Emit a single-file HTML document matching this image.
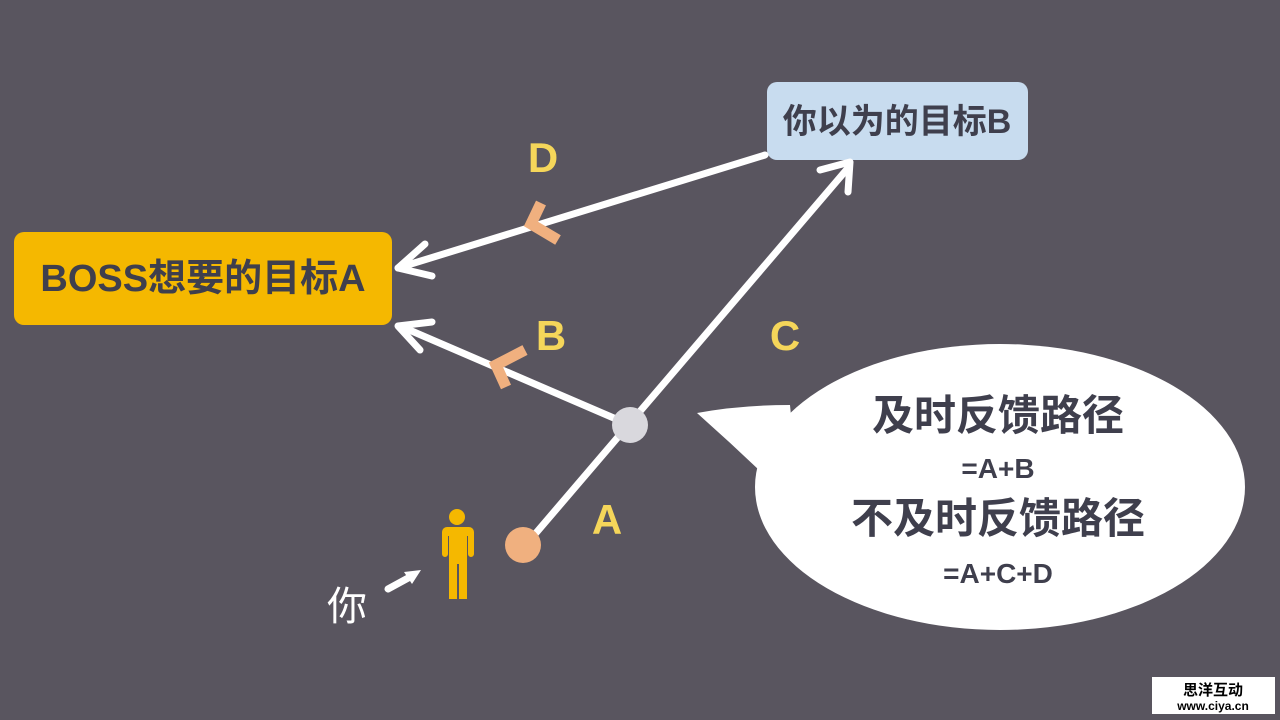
<!DOCTYPE html>
<html><head><meta charset="utf-8"><style>
html,body{margin:0;padding:0;width:1280px;height:720px;overflow:hidden;background:#59555f;font-family:"Liberation Sans","Noto Sans CJK SC",sans-serif}
</style></head><body>
<svg width="1280" height="720" viewBox="0 0 1280 720" xmlns="http://www.w3.org/2000/svg" style="position:absolute;left:0;top:0">
<rect width="1280" height="720" fill="#59555f"/>
<!-- bubble -->
<ellipse cx="1000" cy="487" rx="245" ry="143" fill="#fff"/>
<path d="M697,413 Q740,405 790,405 L800,510 Q750,460 697,413 Z" fill="#fff"/>
<g font-family="'Liberation Sans','Noto Sans CJK SC',sans-serif" font-weight="bold" fill="#3f3f4d" text-anchor="middle">
<text x="998" y="430" font-size="42">及时反馈路径</text>
<text x="998" y="478" font-size="28">=A+B</text>
<text x="998" y="533" font-size="42">不及时反馈路径</text>
<text x="998" y="583" font-size="28">=A+C+D</text>
</g>
<!-- boxes -->
<rect x="767" y="82" width="261" height="78" rx="10" fill="#c8dcef"/>
<text x="897" y="133" font-size="34" font-weight="bold" fill="#3f3f4d" text-anchor="middle" font-family="'Liberation Sans','Noto Sans CJK SC',sans-serif">你以为的目标B</text>
<rect x="14" y="232" width="378" height="93" rx="10" fill="#f5b800"/>
<text x="203" y="291" font-size="38" font-weight="bold" fill="#3f3f4d" text-anchor="middle" font-family="'Liberation Sans','Noto Sans CJK SC',sans-serif">BOSS想要的目标A</text>
<!-- lines -->
<g stroke="#fff" stroke-width="7" stroke-linecap="round" fill="none" stroke-linejoin="round">
<line x1="530" y1="540" x2="848" y2="168"/>
<polyline points="820,170 850,162 848,192"/>
<line x1="630" y1="425" x2="400" y2="326"/>
<polyline points="420,350 398,326 432,322"/>
<line x1="765" y1="155" x2="398" y2="268"/>
<polyline points="425,244 398,268 432,276"/>
<line x1="388" y1="589" x2="410" y2="577"/>
</g>
<polygon points="421,570 404,572 412,584" fill="#fff"/>
<!-- chevrons -->
<path d="M541,203 L531,224 L558,240" stroke="#f0b07f" stroke-width="11" fill="none" stroke-linejoin="miter"/>
<path d="M525,350 L496,365 L506,387" stroke="#f0b07f" stroke-width="11" fill="none" stroke-linejoin="miter"/>
<!-- dots -->
<circle cx="630" cy="425" r="18" fill="#d9d8dd"/>
<circle cx="523" cy="545" r="18" fill="#f0b07f"/>
<!-- person -->
<g fill="#f5b800">
<circle cx="457" cy="517" r="8"/>
<path d="M445,527 h24 a5,5 0 0 1 5,5 v22 a3,3 0 0 1 -6,0 v-18 h-1 v63 h-8 v-35 h-2 v35 h-8 v-63 h-1 v18 a3,3 0 0 1 -6,0 v-22 a5,5 0 0 1 5,-5z"/>
</g>
<!-- labels -->
<g font-family="'Liberation Sans',sans-serif" font-weight="bold" fill="#f5d65a" font-size="42" text-anchor="middle">
<text x="543" y="172">D</text>
<text x="551" y="350">B</text>
<text x="785" y="350">C</text>
<text x="607" y="534">A</text>
</g>
<text x="347" y="620" font-size="40" fill="#fff" text-anchor="middle" font-family="'Liberation Sans','Noto Sans CJK SC',sans-serif">你</text>
<!-- watermark -->
<rect x="1152" y="677" width="123" height="37" fill="#fff"/>
<text x="1213" y="695" font-size="15" font-weight="bold" text-anchor="middle" fill="#000" font-family="'Noto Sans CJK SC',sans-serif">思洋互动</text>
<text x="1213" y="710" font-size="12" font-weight="bold" text-anchor="middle" fill="#000" font-family="'Liberation Sans',sans-serif">www.ciya.cn</text>
</svg>
</body></html>
